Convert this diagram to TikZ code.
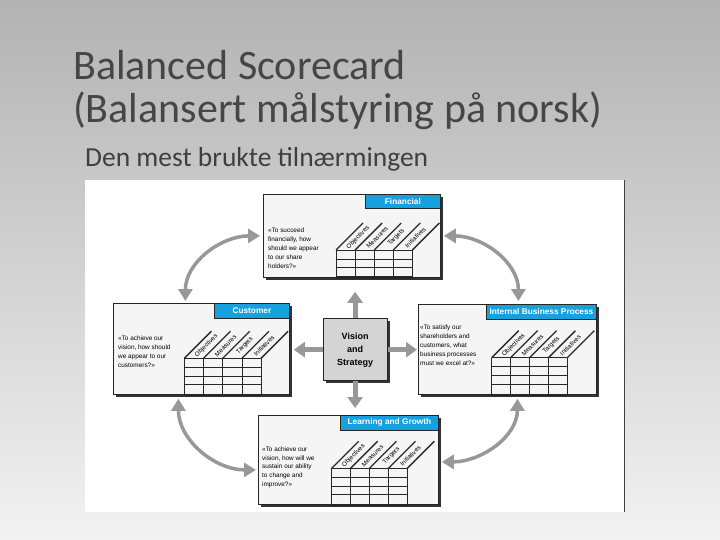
\documentclass[tikz,border=0pt]{standalone}
\usepackage{fontspec}
\setmainfont{Carlito}
\newfontfamily\dgfont{Liberation Sans}
\usetikzlibrary{arrows.meta,calc,shadows,positioning}

\definecolor{headblue}{RGB}{22,160,222}
\definecolor{arrowgray}{RGB}{152,152,152}
\definecolor{titlegray}{RGB}{70,70,70}
\definecolor{cardfill}{RGB}{245,245,245}
\definecolor{slantgray}{RGB}{40,40,40}

\tikzset{
	card/.style={draw=black!85, line width=0.8pt, fill=cardfill, inner sep=0pt, anchor=north west,
		drop shadow={shadow xshift=2.5pt, shadow yshift=-2.5pt, fill=black!80, opacity=1}},
	cardhead/.style={draw=black!85, line width=0.8pt, fill=headblue, text=white, inner sep=0pt,
		minimum height=14.5pt, font=\dgfont\bfseries\fontsize{8.3}{9}\selectfont},
	quote/.style={anchor=north west, inner sep=0pt, align=left,
		font=\dgfont\fontsize{6.4}{8.8}\selectfont},
	collabel/.style={rotate=45, inner sep=0pt, font=\dgfont\fontsize{6.3}{7}\selectfont},
	gridline/.style={draw=black!85, line width=0.6pt},
	slantline/.style={draw=slantgray, line width=1.3pt},
	visbox/.style={draw=black!85, line width=0.8pt, fill=black!17, inner sep=0pt, anchor=north west,
		minimum width=64pt, minimum height=62pt, align=center,
		font=\dgfont\bfseries\fontsize{9}{13}\selectfont,
		drop shadow={shadow xshift=2.5pt, shadow yshift=-2.5pt, fill=black!80, opacity=1}},
	straight/.style={draw=arrowgray, line width=5pt, -{Triangle[width=15pt,length=11pt]}},
	curv/.style={draw=arrowgray, line width=3.5pt,
		{Triangle[width=14pt,length=12pt]}-{Triangle[width=14pt,length=12pt]}},
	titletext/.style={anchor=base west, inner sep=0pt, text=titlegray, font=\fontsize{42}{44}\selectfont},
	subtext/.style={anchor=base west, inner sep=0pt, text=titlegray!90!black, font=\fontsize{27.5}{30}\selectfont}
}

% #1 name, #2 corner, #3 width, #4 height, #5 head width, #6 head text, #7 grid x, #8 grid y, #9 column width
\newcommand{\scorecard}[9]{%
	\node[card, minimum width=#3pt, minimum height=#4pt] (#1) at (#2) {};
	\node[cardhead, minimum width=#5pt, anchor=north east] (#1-head) at (#1.north east) {#6};
	\foreach \r in {0,1,2,3}
		\draw[gridline] (#7,#8+\r*8.8) -- (#7+4*#9,#8+\r*8.8);
	\foreach \i in {0,...,4}
		\draw[gridline] (#7+\i*#9,#8) -- (#7+\i*#9,#8) |- (#1.south);
	\foreach \lab [count=\i from 0] in {Objectives,Measures,Targets,Initiatives}
		\node[collabel] at (#7+\i*#9+0.5*#9+12.5,#8-12.5) {\lab};
	\foreach \i in {0,...,4}
		\draw[slantline] (#7+\i*#9,#8) -- (#7+\i*#9+27,#8-27);
}

\begin{document}
\begin{tikzpicture}[x=1pt, y=-1pt]
	\useasboundingbox (0,0) rectangle (720,540);
	\shade[top color=black!30, middle color=black!13, bottom color=black!5] (0,0) rectangle (720,540);

	% slide texts
	\node[titletext] (title1) at (73,80) {Balanced Scorecard};
	\node[titletext] (title2) at (73,123) {(Balansert målstyring på norsk)};
	\node[subtext] (sub) at (85,167) {Den mest brukte tilnærmingen};

	% picture panel
	\fill[white] (85,180) rectangle (624,512);
	\draw[black!75, line width=1pt] (624,180) -- (624,512);

	% the four perspectives
	\scorecard{fin}{263,194}{177}{83}{75}{Financial}{336}{250}{19.1}
	\scorecard{cust}{113,303}{176}{91}{75}{Customer}{184.3}{358.3}{19.2}
	\scorecard{ibp}{418,304}{178}{90}{110}{Internal Business Process}{491.7}{357.7}{18.9}
	\scorecard{learn}{258,415}{180}{89}{98}{Learning and Growth}{331.7}{468.3}{18.9}

	\node[quote] (fin-q) at (268,228) {«To succeed\\financially, how\\should we appear\\to our share\\holders?»};
	\node[quote] (cust-q) at (118,336) {«To achieve our\\vision, how should\\we appear to our\\customers?»};
	\node[quote] (ibp-q) at (420,325) {«To satisfy our\\shareholders and\\customers, what\\business processes\\must we excel at?»};
	\node[quote] (learn-q) at (262,446.5) {«To achieve our\\vision, how will we\\sustain our ability\\to change and\\improve?»};

	% centre
	\node[visbox] (vis) at (322.7,318.3) {Vision\\and\\Strategy};

	\draw[straight, shorten >=14pt] (vis.north) -- (vis.north |- fin.south);
	\draw[straight, shorten >=7pt] (vis.south) -- (vis.south |- learn.north);
	\draw[straight, shorten >=4pt] (vis.west) -- (vis.west -| cust.east);
	\draw[straight, shorten >=1pt] (vis.east) -- (vis.east -| ibp.west);

	\draw[curv] ([xshift=-3pt]fin.west) to[out=180, in=90] ([xshift=-16pt, yshift=2pt]cust.north);
	\draw[curv] ([xshift=3pt]fin.east) to[out=0, in=90] ([xshift=11pt, yshift=3pt]ibp.north);
	\draw[curv] ([xshift=-23pt, yshift=-4pt]cust.south) to[out=270, in=180] ([xshift=-2pt, yshift=-10pt]learn.west);
	\draw[curv] ([xshift=10pt, yshift=-4pt]ibp.south) to[out=270, in=0] ([xshift=3pt, yshift=-2pt]learn.east);
\end{tikzpicture}
\end{document}
